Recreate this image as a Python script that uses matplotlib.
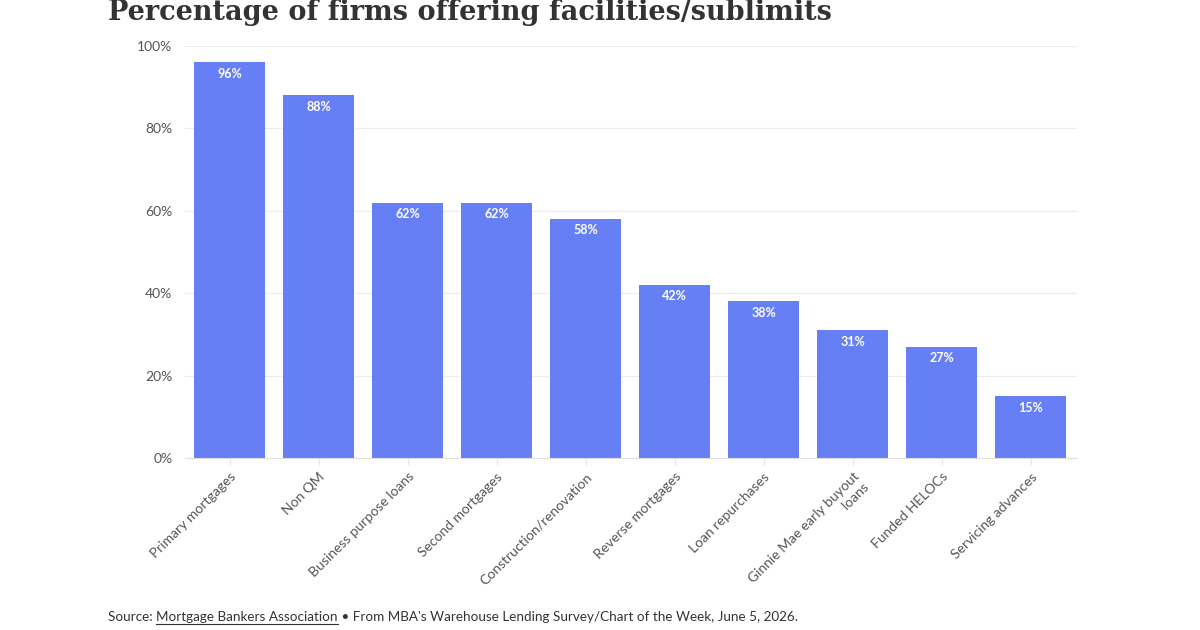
import matplotlib
matplotlib.use('Agg')
import matplotlib.pyplot as plt
from matplotlib.ticker import FuncFormatter

# chart data
categories = ['Primary mortgages', 'Non QM', 'Business purpose loans', 'Second mortgages',
              'Construction/renovation', 'Reverse mortgages', 'Loan repurchases',
              'Ginnie Mae early buyout\nloans', 'Funded HELOCs', 'Servicing advances']
values = [96, 88, 62, 62, 58, 42, 38, 31, 27, 15]
y_ticks = [0, 20, 40, 60, 80, 100]

plt.rcParams['font.family'] = ['Lato', 'DejaVu Sans']

fig = plt.figure(figsize=(12, 6.3), dpi=100)
ax = fig.add_axes([185/1200, 1-458/630, (1077-185)/1200, (458-46)/630])

x = range(len(categories))
ax.bar(x, values, width=0.8, color='#667ff5', zorder=2)
for xi, v in zip(x, values):
    ax.text(xi, v - 1.3, f'{v}%', ha='center', va='top', color='white',
            fontsize=9, fontweight='bold', zorder=3)

ax.set_xlim(-0.5, 9.52)
ax.set_ylim(0, 100)
ax.set_yticks(y_ticks)
ax.yaxis.set_major_formatter(FuncFormatter(lambda v, p: f'{v:.0f}%'))
ax.grid(axis='y', color='#ececec', linewidth=0.8, zorder=0)
ax.set_xticks(list(x))
ax.set_xticklabels(categories, rotation=45, ha='right', rotation_mode='anchor',
                   fontsize=10, color='#555555')
ax.tick_params(axis='y', length=0, pad=9, labelsize=10, labelcolor='#555555')
ax.tick_params(axis='x', length=5, color='#e6e6e6', pad=4)
for s in ['top', 'right', 'left']:
    ax.spines[s].set_visible(False)
ax.spines['bottom'].set_color('#e0e0e0')
for lbl in ax.get_xticklabels():
    lbl.set_multialignment('right')

# title
fig.text(108/1200, 1-20/630, 'Percentage of firms offering facilities/sublimits',
         ha='left', va='baseline', fontsize=19.5, fontweight='bold',
         family=['DejaVu Serif'], color='#333333')

# source line
fig.canvas.draw()
r = fig.canvas.get_renderer()
y0 = 1-621/630
t1 = fig.text(108/1200, y0, 'Source: ', ha='left', va='baseline', fontsize=9.7, color='#333333')
bb = t1.get_window_extent(r)
t2 = fig.text(bb.x1/1200, y0, 'Mortgage Bankers Association', ha='left', va='baseline',
              fontsize=9.7, color='#333333')
bb2 = t2.get_window_extent(r)
fig.add_artist(plt.Line2D([bb2.x0/1200, bb2.x1/1200], [y0-3/630, y0-3/630],
                          color='#333333', linewidth=0.8))
fig.text(bb2.x1/1200, y0, " \u2022 From MBA's Warehouse Lending Survey/Chart of the Week, June 5, 2026.",
         ha='left', va='baseline', fontsize=9.7, color='#333333')

fig.savefig('out.png', dpi=100)
